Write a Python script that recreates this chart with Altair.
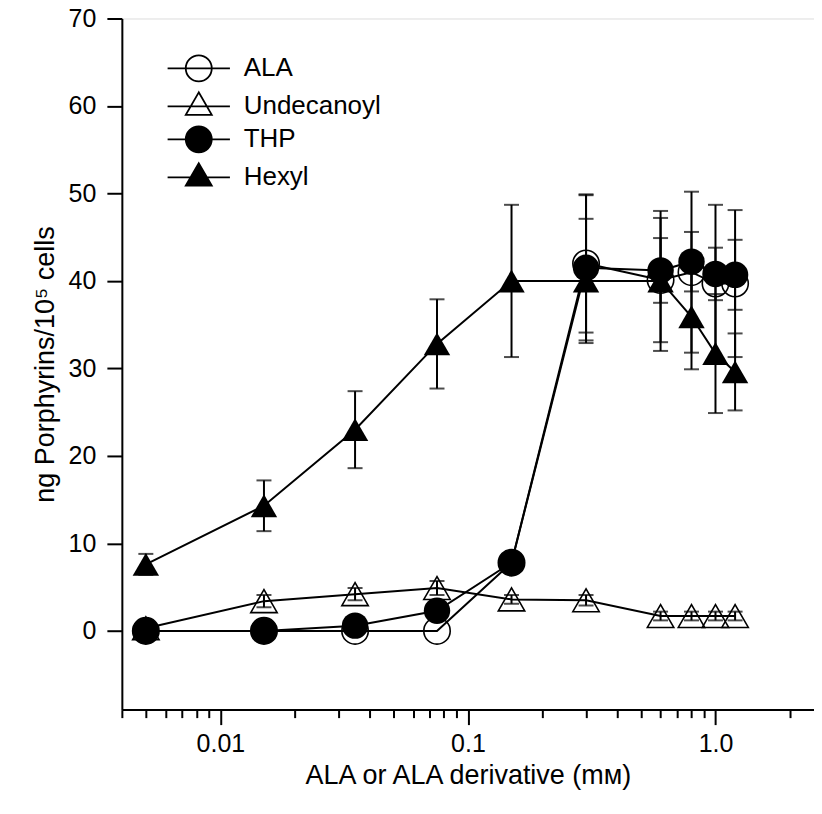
import altair as alt
import pandas as pd

# ---------------- data ----------------
conc = [0.005, 0.015, 0.035, 0.075, 0.15, 0.3, 0.6, 0.8, 1.0, 1.2]
series_names = ["ALA", "Undecanoyl", "THP", "Hexyl"]

ala_mean = [0.0, 0.0, 0.0, 0.0, 7.8, 42.0, 40.1, 41.0, 39.7, 39.7]
ala_err = [0.0, 0.0, 0.0, 0.0, 0.5, 7.9, 7.1, 9.2, 9.0, 8.4]
undec_mean = [0.3, 3.4, 4.2, 4.9, 3.6, 3.5, 1.7, 1.7, 1.7, 1.7]
undec_err = [0.3, 0.7, 0.7, 0.8, 0.5, 0.6, 0.5, 0.5, 0.5, 0.5]
thp_mean = [0.0, 0.0, 0.6, 2.3, 7.8, 41.5, 41.2, 42.2, 40.8, 40.7]
thp_err = [0.0, 0.0, 0.0, 0.0, 0.5, 8.3, 3.7, 3.4, 3.0, 4.0]
hexyl_mean = [7.6, 14.3, 23.0, 32.8, 40.0, 40.0, 40.0, 35.9, 31.7, 29.6]
hexyl_err = [1.2, 2.9, 4.4, 5.1, 8.7, 7.1, 8.0, 6.0, 6.8, 4.4]

x_major = [0.01, 0.1, 1.0]
x_minor = [0.004, 0.005, 0.006, 0.007, 0.008, 0.009,
           0.02, 0.03, 0.04, 0.05, 0.06, 0.07, 0.08, 0.09,
           0.2, 0.3, 0.4, 0.5, 0.6, 0.7, 0.8, 0.9, 2.0]
x_major_labels = ["0.01", "0.1", "1.0"]
y_ticks = [0, 10, 20, 30, 40, 50, 60, 70]

x_title = "ALA or ALA derivative (mᴍ)"
y_title = "ng Porphyrins/10⁵ cells"

# ---------------- table ----------------
table = {
    "ALA": (ala_mean, ala_err),
    "Undecanoyl": (undec_mean, undec_err),
    "THP": (thp_mean, thp_err),
    "Hexyl": (hexyl_mean, hexyl_err),
}
draw_order = ["Hexyl", "Undecanoyl", "ALA", "THP"]
rows = []
for name in draw_order:
    means, errs = table[name]
    for c, v, e in zip(conc, means, errs):
        rows.append({"series": name, "conc": c, "value": v, "err": e,
                     "lo": v - e, "hi": v + e})
df = pd.DataFrame(rows)

FONT = "Liberation Sans"
x_scale = alt.Scale(type="log", domain=[0.004, 2.5], nice=False)
y_scale = alt.Scale(domain=[-9, 70], nice=False, zero=False)

major_test = " || ".join(f"datum.value == {v}" for v in x_major)
label_expr = " : ".join(f"datum.value == {v} ? '{t}'" for v, t in zip(x_major, x_major_labels)) + " : ''"

x_axis = alt.Axis(values=sorted(x_major + x_minor), orient="bottom",
                  tickSize={"condition": {"test": major_test, "value": 15}, "value": 8},
                  tickWidth=2, tickColor="black", domainColor="black", domainWidth=2,
                  labelFontSize=25, labelFont=FONT, labelColor="black",
                  labelPadding=7, grid=False, labelExpr=label_expr,
                  title=x_title, titleFont=FONT, titleFontSize=27,
                  titleFontWeight="normal", titleColor="black", titlePadding=6)
y_axis = alt.Axis(values=y_ticks, orient="left", tickSize=15, tickWidth=2,
                  tickColor="black", domainColor="black", domainWidth=2,
                  labelFontSize=25, labelFont=FONT, labelColor="black",
                  labelPadding=11, grid=False, title=y_title, titleFont=FONT,
                  titleFontSize=27, titleFontWeight="normal", titleColor="black",
                  titlePadding=9)

base = alt.Chart(df)

lines = base.mark_line(color="black", strokeWidth=2).encode(
    x=alt.X("conc:Q", scale=x_scale, axis=x_axis),
    y=alt.Y("value:Q", scale=y_scale, axis=y_axis),
    detail="series:N",
)

eb = base.transform_filter("datum.err > 0")
bars = eb.mark_rule(color="black", strokeWidth=2).encode(
    x=alt.X("conc:Q", scale=x_scale),
    y=alt.Y("lo:Q", scale=y_scale),
    y2="hi:Q",
)
cap_lo = eb.mark_tick(color="black", orient="horizontal", size=15, thickness=2).encode(
    x=alt.X("conc:Q", scale=x_scale), y=alt.Y("lo:Q", scale=y_scale))
cap_hi = eb.mark_tick(color="black", orient="horizontal", size=15, thickness=2).encode(
    x=alt.X("conc:Q", scale=x_scale), y=alt.Y("hi:Q", scale=y_scale))

styles = {
    "ALA": ("circle", False),
    "Undecanoyl": ("triangle-up", False),
    "THP": ("circle", True),
    "Hexyl": ("triangle-up", True),
}
point_layers = []
for name in draw_order:
    shp, filled = styles[name]
    if filled:
        m = base.mark_point(shape=shp, filled=True, color="black", size=700, opacity=1)
    else:
        m = base.mark_point(shape=shp, filled=False, color="black", strokeWidth=1.6,
                            size=700, opacity=1)
    point_layers.append(
        m.transform_filter(alt.datum.series == name).encode(
            x=alt.X("conc:Q", scale=x_scale), y=alt.Y("value:Q", scale=y_scale))
    )

# legend: symbols with a line through them
circle_path = "M-2.4,0L2.4,0M1,0A1,1,0,1,1,-1,0A1,1,0,1,1,1,0Z"
tri_path = "M-2.4,0L2.4,0M0,-1.08L-1,0.65L1,0.65Z"
legend_shapes = [circle_path, tri_path, circle_path, tri_path]
legend_fills = ["transparent", "transparent", "black", "black"]
legend_strokes = ["black", "black", "black", "black"]
leg = alt.Legend(orient="none", legendX=63, legendY=36, title=None,
                 labelFontSize=26, labelFont=FONT, labelColor="black",
                 symbolSize=676, symbolStrokeWidth=1.8, symbolStrokeColor="black",
                 symbolOpacity=1, labelOffset=31, rowPadding=3, padding=0)
legend_layer = base.transform_filter("datum.conc < 0").mark_point(
    filled=True, size=676, opacity=1, strokeWidth=1.8
).encode(
    x=alt.X("conc:Q", scale=x_scale),
    y=alt.Y("value:Q", scale=y_scale),
    shape=alt.Shape("series:N", scale=alt.Scale(domain=series_names, range=legend_shapes), legend=leg),
    fill=alt.Fill("series:N", scale=alt.Scale(domain=series_names, range=legend_fills), legend=leg),
    stroke=alt.Stroke("series:N", scale=alt.Scale(domain=series_names, range=legend_strokes), legend=leg),
)

chart = alt.layer(lines, bars, cap_lo, cap_hi, *point_layers, legend_layer).properties(
    width=693, height=692,
    autosize=alt.AutoSizeParams(type="none"),
    padding={"left": 114, "top": 10, "right": 0, "bottom": 90},
).configure_view(stroke="black", strokeWidth=2).configure(background="white")

chart.save("out.html", embed_options={"renderer": "svg", "actions": False})
